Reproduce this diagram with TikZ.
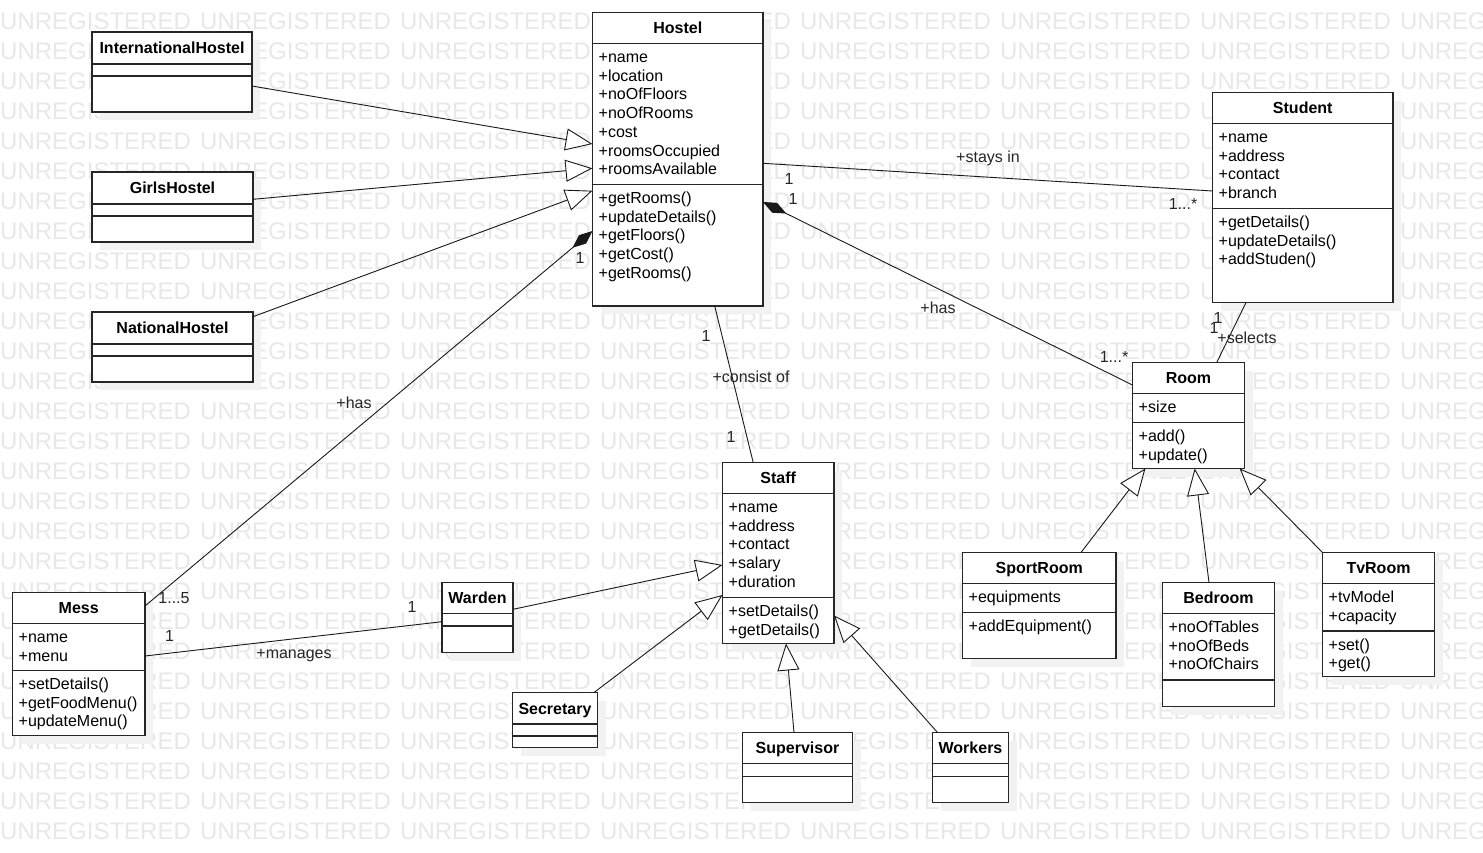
\documentclass[tikz,border=0pt]{standalone}
\usepackage{fontspec}
\setmainfont{Liberation Sans}
\newfontfamily\wmfont{Liberation Sans}
\usetikzlibrary{arrows.meta,calc}
\tikzset{
 clsbox/.style={draw=black!85, line width=1.1pt, fill=white, inner sep=0pt, outer sep=0pt},
 shadowbox/.style={fill=black!5},
 sepline/.style={draw=black!85, line width=1.1pt},
 ttl/.style={font=\bfseries\fontsize{16}{19}\selectfont, inner sep=0pt, text=black, anchor=base},
 itm/.style={font=\fontsize{16}{19}\selectfont, inner sep=0pt, anchor=base west, text=black},
 lbl/.style={font=\fontsize{16}{19}\selectfont, inner sep=0pt, text=black!85},
 conn/.style={draw=black!90, line width=0.9pt},
 gen/.style={conn, -{Triangle[open, length=27pt, width=22pt, fill=white]}},
 comp/.style={conn, {Diamond[length=26pt, width=11pt]}-},
 wm/.style={font=\wmfont\fontsize{24}{24}\selectfont, text=black!9, inner sep=0pt, anchor=west},
}
% name x1 y1 x2 y2 l1 l2 title
\newcommand\umlbox[8]{%
 \fill[shadowbox] (#2+8,#3+8) rectangle (#4+8,#5+8);
 \node[clsbox, minimum width={#4-#2}, minimum height={#5-#3}, anchor=north west] (#1) at (#2,#3) {};
 \draw[sepline] (#2,#6) -- (#4,#6);
 \draw[sepline] (#2,#7) -- (#4,#7);
 \node[ttl] (#1-t) at ({(#2+#4)/2},{(#3+#6)/2+5.8}) {#8};
}
% prefix x firstbaseline list
\newcommand\umllines[4]{%
 \foreach \itmtext [count=\i from 0] in {#4} {\node[itm] (#1-\i) at (#2,{#3+18.7*\i}) {\itmtext};}
}
\begin{document}
\begin{tikzpicture}[x=1pt,y=-1pt]
\useasboundingbox (0,0) rectangle (1483,852);
\fill[white] (0,0) rectangle (1483,852);
\begin{scope}
\clip (0,0) rectangle (1483,852);
\foreach \r in {0,...,27} \foreach \c in {0,...,7} \node[wm] (wm-\r-\c) at (200*\c,21+30*\r) {UNREGISTERED};
\end{scope}

% classes
\umlbox{IH}{92}{32}{252}{112}{64}{76}{InternationalHostel}
\umlbox{GH}{92}{172}{253}{242}{204}{216}{GirlsHostel}
\umlbox{NH}{92}{312}{253}{382}{344}{356}{NationalHostel}
\umlbox{Hostel}{592.5}{12.5}{763}{306}{43.5}{184.5}{Hostel}
\umllines{Ha}{598.5}{62.5}{+name,+location,+noOfFloors,+noOfRooms,+cost,+roomsOccupied,+roomsAvailable}
\umllines{Hm}{598.5}{203.5}{+getRooms(),+updateDetails(),+getFloors(),+getCost(),+getRooms()}
\umlbox{Student}{1212.5}{92.5}{1393}{302.5}{123.5}{208.5}{Student}
\umllines{Sa}{1218.5}{142.5}{+name,+address,+contact,+branch}
\umllines{Sm}{1218.5}{227.5}{+getDetails(),+updateDetails(),+addStuden()}
\umlbox{Room}{1132.5}{362.5}{1244.5}{468.5}{393.5}{422.5}{Room}
\umllines{Ra}{1138.5}{412.5}{+size}
\umllines{Rm}{1138.5}{441.5}{+add(),+update()}
\umlbox{Staff}{722.5}{462.5}{834}{643.5}{493.5}{597.5}{Staff}
\umllines{Ta}{728.5}{512.5}{+name,+address,+contact,+salary,+duration}
\umllines{Tm}{728.5}{616.5}{+setDetails(),+getDetails()}
\umlbox{Mess}{12.5}{592.5}{145}{735.5}{623.5}{670.5}{Mess}
\umllines{Ma}{18.5}{642.5}{+name,+menu}
\umllines{Mm}{18.5}{689.5}{+setDetails(),+getFoodMenu(),+updateMenu()}
\umlbox{Warden}{442}{582.5}{513}{652.5}{613.5}{626}{Warden}
\umlbox{Secretary}{512.5}{692.5}{597.5}{747.5}{724}{736}{Secretary}
\umlbox{Supervisor}{742.5}{732.5}{852.5}{802.5}{763.5}{776.5}{Supervisor}
\umlbox{Workers}{932.5}{732.5}{1008.5}{802.5}{763.5}{776.5}{Workers}
\umlbox{SportRoom}{962.5}{552.5}{1116}{658.5}{583.5}{612.5}{SportRoom}
\umllines{Pa}{968.5}{602.5}{+equipments}
\umllines{Pm}{968.5}{631.5}{+addEquipment()}
\umlbox{Bedroom}{1162.5}{582.5}{1274.5}{706.5}{613.5}{680}{Bedroom}
\umllines{Ba}{1168.5}{632.5}{+noOfTables,+noOfBeds,+noOfChairs}
\umlbox{TvRoom}{1322.5}{552.5}{1434.5}{676.5}{583.5}{631}{TvRoom}
\umllines{Va}{1328.5}{602.5}{+tvModel,+capacity}
\umllines{Vm}{1328.5}{650}{+set(),+get()}

% connectors
\draw[gen] ($(IH.north east)+(0,54)$) -- ($(Hostel.north west)+(0,131.5)$);
\draw[gen] ($(GH.north east)+(0,27.3)$) -- ($(Hostel.north west)+(0,155.8)$);
\draw[gen] ($(NH.north east)+(0,4.7)$) -- ($(Hostel.north west)+(0,178.2)$);
\draw[comp] ($(Hostel.north west)+(0,218.5)$) -- ($(Mess.north east)+(0,13.5)$);
\draw[conn] ($(Hostel.south west)+(122.2,0)$) -- ($(Staff.north west)+(30.7,0)$);
\draw[conn] ($(Hostel.north east)+(0,150.8)$) -- ($(Student.north west)+(0,98.5)$);
\draw[comp] ($(Hostel.north east)+(0,189.5)$) -- ($(Room.north west)+(0,22.5)$);
\draw[conn] ($(Student.south west)+(33.5,0)$) -- ($(Room.north west)+(84.2,0)$);
\draw[gen] ($(SportRoom.north west)+(118.5,0)$) -- ($(Room.south west)+(12.9,0)$);
\draw[gen] ($(Bedroom.north west)+(46.5,0)$) -- ($(Room.south west)+(62.2,0)$);
\draw[gen] (TvRoom.north west) -- ($(Room.south east)+(-4.9,0)$);
\draw[gen] ($(Warden.north east)+(0,26.8)$) -- ($(Staff.north west)+(0,102.5)$);
\draw[gen] ($(Secretary.north west)+(81.5,0)$) -- ($(Staff.north west)+(0,132.5)$);
\draw[gen] ($(Supervisor.north west)+(51.5,0)$) -- ($(Staff.south west)+(63.5,0)$);
\draw[gen] ($(Workers.north west)+(5,0)$) -- ($(Staff.north east)+(0,153)$);
\draw[conn] ($(Mess.north east)+(0,63.5)$) -- ($(Warden.north west)+(0,39.2)$);

% labels
\node[lbl] (l1) at (988,158) {+stays in};
\node[lbl] (l2) at (789,179) {1};
\node[lbl] (l3) at (793,199) {1};
\node[lbl] (l4) at (1183,204) {1...*};
\node[lbl] (l5) at (938,308) {+has};
\node[lbl] (l6) at (1114,357) {1...*};
\node[lbl] (l7) at (1218,318) {1};
\node[lbl] (l8) at (1214,328) {1};
\node[lbl] (l9) at (1247,338) {+selects};
\node[lbl] (l10) at (706,336) {1};
\node[lbl] (l11) at (751,377) {+consist of};
\node[lbl] (l12) at (731,437) {1};
\node[lbl] (l13) at (580,258) {1};
\node[lbl] (l14) at (354,403) {+has};
\node[lbl] (l15) at (174,598) {1...5};
\node[lbl] (l16) at (169.5,636) {1};
\node[lbl] (l17) at (412,607) {1};
\node[lbl] (l18) at (294,656) {+manages};
\end{tikzpicture}
\end{document}
